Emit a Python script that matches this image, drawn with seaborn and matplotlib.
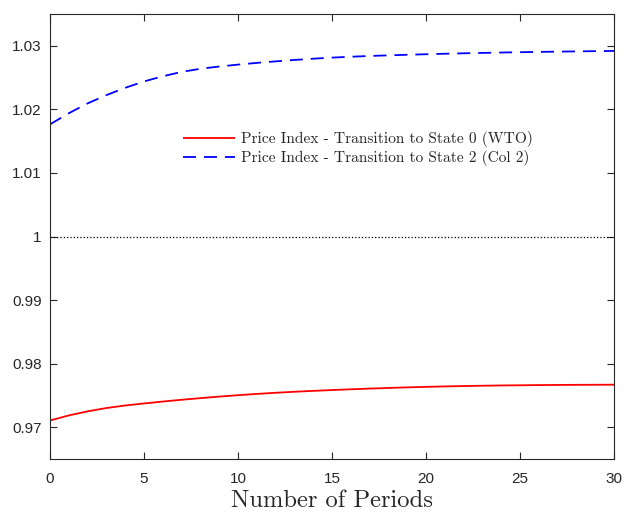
"""
plot.py
Price index transition paths (MATLAB-style figure).
"""

import matplotlib
matplotlib.use("Agg")
import matplotlib.pyplot as plt
import numpy as np
import pandas as pd
import seaborn as sns


# ---------------------------------------------------------------------------
# Data
# ---------------------------------------------------------------------------
periods = list(range(0, 31))

price_wto = [
    0.97106, 0.97186, 0.97250, 0.97302, 0.97342, 0.97374, 0.97404, 0.97432,
    0.97458, 0.97482, 0.97504, 0.97524, 0.97542, 0.97558, 0.97572, 0.97585,
    0.97597, 0.97608, 0.97618, 0.97627, 0.97635, 0.97642, 0.97648, 0.97653,
    0.97657, 0.97660, 0.97663, 0.97665, 0.97667, 0.97668, 0.97669,
]

price_col2 = [
    1.01765, 1.01940, 1.02095, 1.02225, 1.02340, 1.02440, 1.02522, 1.02590,
    1.02640, 1.02675, 1.02705, 1.02732, 1.02756, 1.02778, 1.02798, 1.02815,
    1.02829, 1.02841, 1.02851, 1.02860, 1.02868, 1.02876, 1.02883, 1.02889,
    1.02895, 1.02900, 1.02905, 1.02909, 1.02913, 1.02917, 1.02920,
]

series_labels = [
    "Price Index - Transition to State 0 (WTO)",
    "Price Index - Transition to State 2 (Col 2)",
]
series_colors = ["#ff0000", "#0000ff"]

x_ticks = [0, 5, 10, 15, 20, 25, 30]
y_ticks = [0.97, 0.98, 0.99, 1.00, 1.01, 1.02, 1.03]
y_tick_labels = ["0.97", "0.98", "0.99", "1", "1.01", "1.02", "1.03"]

df = pd.DataFrame({
    "period": periods * 2,
    "value": price_wto + price_col2,
    "series": [series_labels[0]] * len(periods) + [series_labels[1]] * len(periods),
})

# ---------------------------------------------------------------------------
# Plot
# ---------------------------------------------------------------------------
sns.set_style("ticks")
plt.rcParams["font.family"] = ["Liberation Sans", "DejaVu Sans"]

fig = plt.figure(figsize=(6.26, 5.12), dpi=100)
ax = fig.add_axes([0.0799, 0.1035, 0.901, 0.869])

sns.lineplot(
    data=df, x="period", y="value", hue="series", style="series",
    palette=series_colors, dashes=[(1, 0), (7.2, 4.4)],
    linewidth=1.3, ax=ax, legend=True,
)
ax.axhline(1.0, color="black", linestyle=":", linewidth=0.9, zorder=1)

ax.set_xlim(0, 30)
ax.set_ylim(0.965, 1.035)
ax.set_xticks(x_ticks)
ax.set_yticks(y_ticks)
ax.set_yticklabels(y_tick_labels)
ax.tick_params(direction="in", length=5, width=0.8, labelsize=11,
               colors="#262626", top=True, right=True, pad=6)
ax.tick_params(axis="x", pad=9)
for s in ax.spines.values():
    s.set_linewidth(0.8)
    s.set_color("#262626")

ax.set_xlabel("Number of Periods", family="cmr10", fontsize=17.7, labelpad=3)
ax.set_ylabel("")

handles, labels = ax.get_legend_handles_labels()
ax.legend(
    handles, labels, loc="upper left", bbox_to_anchor=(0.211, 0.7685),
    frameon=False, prop={"family": "cmr10", "size": 11.1},
    handlelength=3.4, handletextpad=0.4, labelspacing=0.2,
)

fig.savefig("out.png", dpi=100)
plt.close(fig)
